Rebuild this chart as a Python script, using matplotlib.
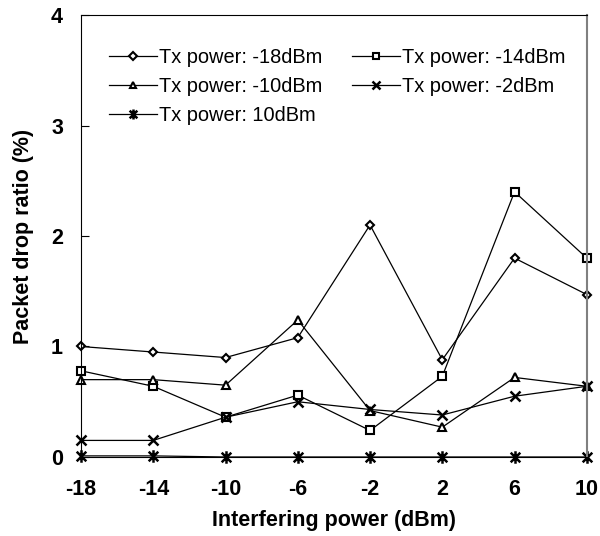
import matplotlib
matplotlib.use("Agg")
import matplotlib.pyplot as plt
from matplotlib.path import Path

plt.rcParams['font.family'] = ['Liberation Sans', 'DejaVu Sans']

interfering = ['-18', '-14', '-10', '-6', '-2', '2', '6', '10']

tx_m18 = [1.0, 0.95, 0.90, 1.08, 2.10, 0.88, 1.80, 1.47]
tx_m14 = [0.78, 0.64, 0.36, 0.56, 0.24, 0.73, 2.40, 1.80]
tx_m10 = [0.70, 0.70, 0.65, 1.24, 0.42, 0.27, 0.72, 0.64]
tx_m2 = [0.15, 0.15, 0.36, 0.50, 0.43, 0.38, 0.55, 0.64]
tx_10 = [0.01, 0.01, 0.0, 0.0, 0.0, 0.0, 0.0, 0.0]

# excel style star: an X with a vertical bar
star = Path([(-1, -1), (1, 1), (-1, 1), (1, -1), (0, -1.3), (0, 1.3)],
            [Path.MOVETO, Path.LINETO, Path.MOVETO, Path.LINETO, Path.MOVETO, Path.LINETO])

fig = plt.figure(figsize=(6, 5.36), dpi=100)
ax = fig.add_axes([0.135, 0.1474, 0.843, 0.8246])

x = list(range(len(interfering)))
common = dict(color='black', lw=0.9, mfc='white', mec='black', mew=1.5, clip_on=False)

l1, = ax.plot(x, tx_m18, marker='D', ms=4.5, label='Tx power: -18dBm', **common)
l2, = ax.plot(x, tx_m14, marker='s', ms=5.5, label='Tx power: -14dBm', **common)
l3, = ax.plot(x, tx_m10, marker='^', ms=6, label='Tx power: -10dBm', **common)
l4, = ax.plot(x, tx_m2, marker='x', ms=6.5, mew=1.8, color='black', lw=0.9, clip_on=False,
              label='Tx power: -2dBm')
l5, = ax.plot(x, tx_10, marker=star, ms=9, mew=1.8, color='black', lw=0.9, clip_on=False,
              label='Tx power: 10dBm')

ax.set_xlim(0, 7)
ax.set_ylim(0, 4)
ax.set_xticks(x)
ax.set_xticklabels(interfering)
ax.set_yticks([0, 1, 2, 3, 4])
ax.tick_params(axis='x', length=0, pad=16, labelsize=15.5)
ax.tick_params(axis='y', direction='in', length=6, pad=13, labelsize=15.5)
for lab in ax.get_xticklabels() + ax.get_yticklabels():
    lab.set_fontweight('bold')

ax.spines['right'].set_color('gray')
ax.spines['right'].set_linewidth(1.5)

ax.set_xlabel('Interfering power (dBm)', fontsize=15.5, fontweight='bold', labelpad=7)
ax.set_ylabel('Packet drop ratio (%)', fontsize=15.5, fontweight='bold', labelpad=12)

# row-wise order like the original legend
ax.legend([l1, l3, l5, l2, l4], [h.get_label() for h in [l1, l3, l5, l2, l4]],
          loc='upper left', bbox_to_anchor=(0.02, 0.967), ncol=2, frameon=False,
          fontsize=14.4, handlelength=2.4, handletextpad=0.1, columnspacing=1.5,
          labelspacing=0.5, markerscale=0.8)

fig.savefig('out.png', dpi=100)
